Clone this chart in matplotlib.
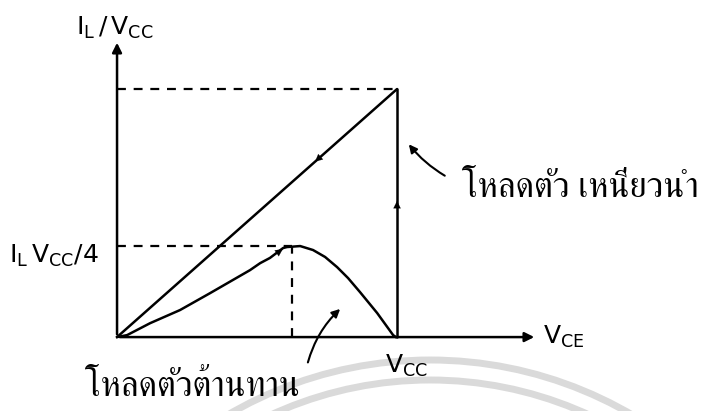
import matplotlib
matplotlib.use("Agg")
import matplotlib.pyplot as plt
from matplotlib.patches import Circle

# ---- ข้อมูล (หน่วย: VCE / VCC และ IC / IL) ----
# ภาระตัวเหนี่ยวนำ: เส้นทแยงจากจุดกำเนิดถึงมุมบน แล้วลงตามเส้นตั้งที่ VCC
ind_x = [0.0, 1.0, 1.0]
ind_y = [0.0, 1.0, 0.0]

# ภาระตัวต้านทาน: เส้นโค้ง (อ่านจากรูป)
res_x = [0.0, 0.036, 0.118, 0.225, 0.332, 0.475, 0.511, 0.546, 0.593, 0.607, 0.654,
         0.700, 0.743, 0.786, 0.825, 0.868, 0.929, 0.986, 0.996]
res_y = [0.0, 0.008, 0.056, 0.109, 0.177, 0.270, 0.298, 0.319, 0.359, 0.363, 0.367,
         0.351, 0.323, 0.282, 0.238, 0.181, 0.097, 0.008, 0.0]

peak_x = 0.625
peak_y = 0.367

label_top = r"$\mathregular{I_L\,/\,V_{CC}}$"
label_peak = r"$\mathregular{I_L\,V_{CC}/4}$"
label_vcc = r"$\mathregular{V_{CC}}$"
label_vce = r"$\mathregular{V_{CE}}$"
label_ind = "โหลดตัว เหนี่ยวนำ"
label_res = "โหลดตัวต้านทาน"

thai_family = ["FreeSerif", "Noto Serif Thai", "Noto Sans Thai", "DejaVu Sans"]

fig = plt.figure(figsize=(7.14, 4.11), dpi=100)
ax = fig.add_axes([0, 0, 1, 1])
ax.set_xlim(-0.418, 2.132)
ax.set_ylim(-0.298, 1.359)
ax.axis("off")

# ลายน้ำจาง ๆ ด้านล่าง (จากภาพสแกน)
for r in (4.0, 3.8):
    fig.add_artist(Circle((4.30, -3.49), r, transform=fig.dpi_scale_trans,
                          fill=False, ec="#dadada", lw=5, zorder=0))

k = "black"
lw = 1.8

# แกน
ax.annotate("", xy=(0, 1.198), xytext=(0, 0),
            arrowprops=dict(arrowstyle="-|>", color=k, lw=lw, mutation_scale=14))
ax.annotate("", xy=(1.5, 0), xytext=(0, 0),
            arrowprops=dict(arrowstyle="-|>", color=k, lw=lw, mutation_scale=14))

# เส้นประ
dash = (0, (4, 3.5))
ax.plot([0, ind_x[1]], [ind_y[1], ind_y[1]], ls=dash, color=k, lw=1.6)
ax.plot([0, peak_x], [peak_y, peak_y], ls=dash, color=k, lw=1.6)
ax.plot([peak_x, peak_x], [0, peak_y], ls=dash, color=k, lw=1.6)

# ภาระตัวเหนี่ยวนำ
ax.plot(ind_x[:2], ind_y[:2], color=k, lw=lw, solid_capstyle="round")
ax.plot(ind_x[1:], ind_y[1:], color=k, lw=lw, solid_capstyle="round")

# ภาระตัวต้านทาน
ax.plot(res_x, res_y, color=k, lw=lw, solid_joinstyle="round")


# ลูกศรเล็กบนเส้น
def mid_arrow(x0, y0, x1, y1):
    ax.annotate("", xy=(x1, y1), xytext=(x0, y0),
                arrowprops=dict(arrowstyle="-|>", color=k, lw=0.1, mutation_scale=13))


mid_arrow(0.75, 0.75, 0.70, 0.70)
mid_arrow(1.0, 0.50, 1.0, 0.56)
mid_arrow(0.55, 0.322, 0.60, 0.361)

# ข้อความ
fs = 18
ax.text(-0.007, 1.246, label_top, fontsize=fs, ha="center", va="center")
ax.text(-0.225, 0.327, label_peak, fontsize=fs, ha="center", va="center")
ax.text(1.032, -0.117, label_vcc, fontsize=fs, ha="center", va="center")
ax.text(1.521, 0.0, label_vce, fontsize=fs, ha="left", va="center")
ax.text(1.232, 0.565, label_ind, fontsize=25, ha="left", va="baseline", family=thai_family)
ax.text(-0.114, -0.238, label_res, fontsize=25, ha="left", va="baseline", family=thai_family)

# ลูกศรชี้ป้าย
ax.annotate("", xy=(1.036, 0.786), xytext=(1.179, 0.645),
            arrowprops=dict(arrowstyle="-|>", color=k, lw=1.5, mutation_scale=12,
                            connectionstyle="arc3,rad=-0.1"))
ax.annotate("", xy=(0.804, 0.121), xytext=(0.679, -0.113),
            arrowprops=dict(arrowstyle="-|>", color=k, lw=1.5, mutation_scale=12,
                            connectionstyle="arc3,rad=-0.15"))

fig.savefig("out.png", dpi=100)
